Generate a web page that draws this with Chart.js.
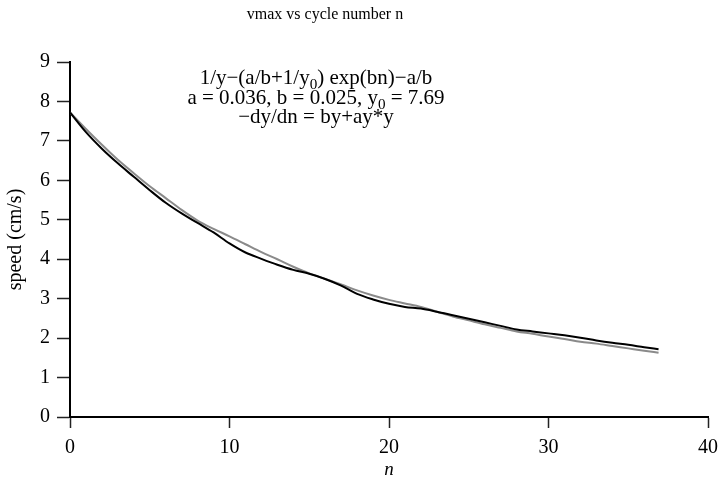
<!DOCTYPE html>
<html>
<head>
<meta charset="utf-8">
<script src="https://cdn.jsdelivr.net/npm/chart.js@4"></script>
<style>
    body { margin: 0; background: #fff; }
    #wrap { width: 718px; height: 483px; }
</style>
</head>
<body>
<div id="wrap"><canvas id="speedCanvas"></canvas></div>
<script>
//Data
let cycleN = [0, 1, 2, 3, 4, 5, 6, 7, 8, 9, 10, 11, 12, 13, 14, 15, 16, 17, 18, 19,
    20, 21, 22, 23, 24, 25, 26, 27, 28, 29, 30, 31, 32, 33, 34, 35, 36, 36.9];
let measured = [7.72, 7.22, 6.8, 6.43, 6.09, 5.75, 5.43, 5.16, 4.92, 4.68, 4.4, 4.17, 4.01, 3.86, 3.73, 3.63, 3.5, 3.33, 3.12, 2.98,
    2.87, 2.79, 2.75, 2.67, 2.58, 2.49, 2.4, 2.31, 2.22, 2.17, 2.12, 2.07, 2.01, 1.94, 1.88, 1.83, 1.77, 1.72];
let fitted = [7.72, 7.3, 6.9, 6.52, 6.18, 5.85, 5.55, 5.25, 4.98, 4.77, 4.58, 4.38, 4.18, 4.0, 3.81, 3.64, 3.5, 3.36, 3.21, 3.08,
    2.97, 2.88, 2.79, 2.67, 2.55, 2.45, 2.35, 2.26, 2.17, 2.11, 2.04, 1.98, 1.91, 1.86, 1.8, 1.74, 1.68, 1.63];
let xTicks = [0, 10, 20, 30, 40];
let yTicks = [0, 1, 2, 3, 4, 5, 6, 7, 8, 9];

let titleText = 'vmax vs cycle number n';
let noteLines = [
    ['1/y\u2212(a/b+1/y', '0', ') exp(bn)\u2212a/b'],
    ['a = 0.036, b = 0.025, y', '0', ' = 7.69'],
    ['\u2212dy/dn = by+ay*y']
];

const SERIF = "'Liberation Serif', 'Times New Roman', serif";

function toPoints(xs, ys) {
    return xs.map((x, i) => ({x: x, y: ys[i]}));
}

// draws one line that may hold a subscript part (odd index)
function drawParts(ctx, parts, cx, y, size) {
    let widths = parts.map((p, i) => {
        ctx.font = (i % 2 ? size * 0.72 : size) + 'px ' + SERIF;
        return ctx.measureText(p).width;
    });
    let total = widths.reduce((a, b) => a + b, 0);
    let x = cx - total / 2;
    parts.forEach((p, i) => {
        ctx.font = (i % 2 ? size * 0.72 : size) + 'px ' + SERIF;
        ctx.fillText(p, x, i % 2 ? y + size * 0.25 : y);
        x += widths[i];
    });
}

const textPlugin = {
    id: 'textPlugin',
    afterDraw(chart) {
        let ctx = chart.ctx;
        ctx.save();
        ctx.fillStyle = '#000';
        ctx.textAlign = 'left';
        ctx.textBaseline = 'alphabetic';
        // title
        ctx.font = '16px ' + SERIF;
        let tw = ctx.measureText(titleText).width;
        ctx.fillText(titleText, 325 - tw / 2, 19);
        // formula notes
        noteLines.forEach((parts, i) => {
            drawParts(ctx, parts, 316, 84 + i * 19.5, 21);
        });
        ctx.restore();
    }
};

let speedChart = new Chart(document.getElementById('speedCanvas').getContext('2d'), {
    type: 'line',
    data: {
        datasets: [{
            label: 'measured',
            data: toPoints(cycleN, measured),
            borderColor: '#000',
            borderWidth: 2,
            pointRadius: 0,
            cubicInterpolationMode: 'monotone',
            order: 1
        }, {
            label: 'fit',
            data: toPoints(cycleN, fitted),
            borderColor: '#8a8a8a',
            borderWidth: 2,
            pointRadius: 0,
            cubicInterpolationMode: 'monotone',
            order: 2
        }]
    },
    options: {
        responsive: true,
        maintainAspectRatio: false,
        animation: false,
        layout: {padding: {top: 62, right: 0, left: 0, bottom: 0}},
        plugins: {
            legend: {display: false},
            tooltip: {enabled: false}
        },
        scales: {
            x: {
                type: 'linear',
                min: 0,
                max: 40,
                afterBuildTicks: (s) => { s.ticks = xTicks.map(v => ({value: v})); },
                afterFit: (s) => { s.height = 66; s.paddingRight = 10; s.paddingLeft = 0; },
                border: {display: true, color: '#000', width: 2},
                grid: {drawOnChartArea: false, drawTicks: true, tickLength: 11, tickWidth: 1.5, tickColor: '#222'},
                ticks: {color: '#000', padding: 8, font: {family: SERIF, size: 20}, maxRotation: 0},
                title: {display: true, text: 'n', color: '#000', padding: {top: 0, bottom: 2},
                    font: {family: SERIF, size: 19, style: 'italic'}}
            },
            y: {
                min: 0,
                max: 9,
                afterBuildTicks: (s) => { s.ticks = yTicks.map(v => ({value: v})); },
                afterFit: (s) => { s.width = 70; },
                border: {display: true, color: '#000', width: 2},
                grid: {drawOnChartArea: false, drawTicks: true, tickLength: 13, tickWidth: 1.5, tickColor: '#222'},
                ticks: {color: '#000', padding: 7, font: {family: SERIF, size: 20}},
                title: {display: true, text: 'speed (cm/s)', color: '#000', padding: {top: 4, bottom: 0},
                    font: {family: SERIF, size: 20}}
            }
        }
    },
    plugins: [textPlugin]
});
</script>
</body>
</html>
